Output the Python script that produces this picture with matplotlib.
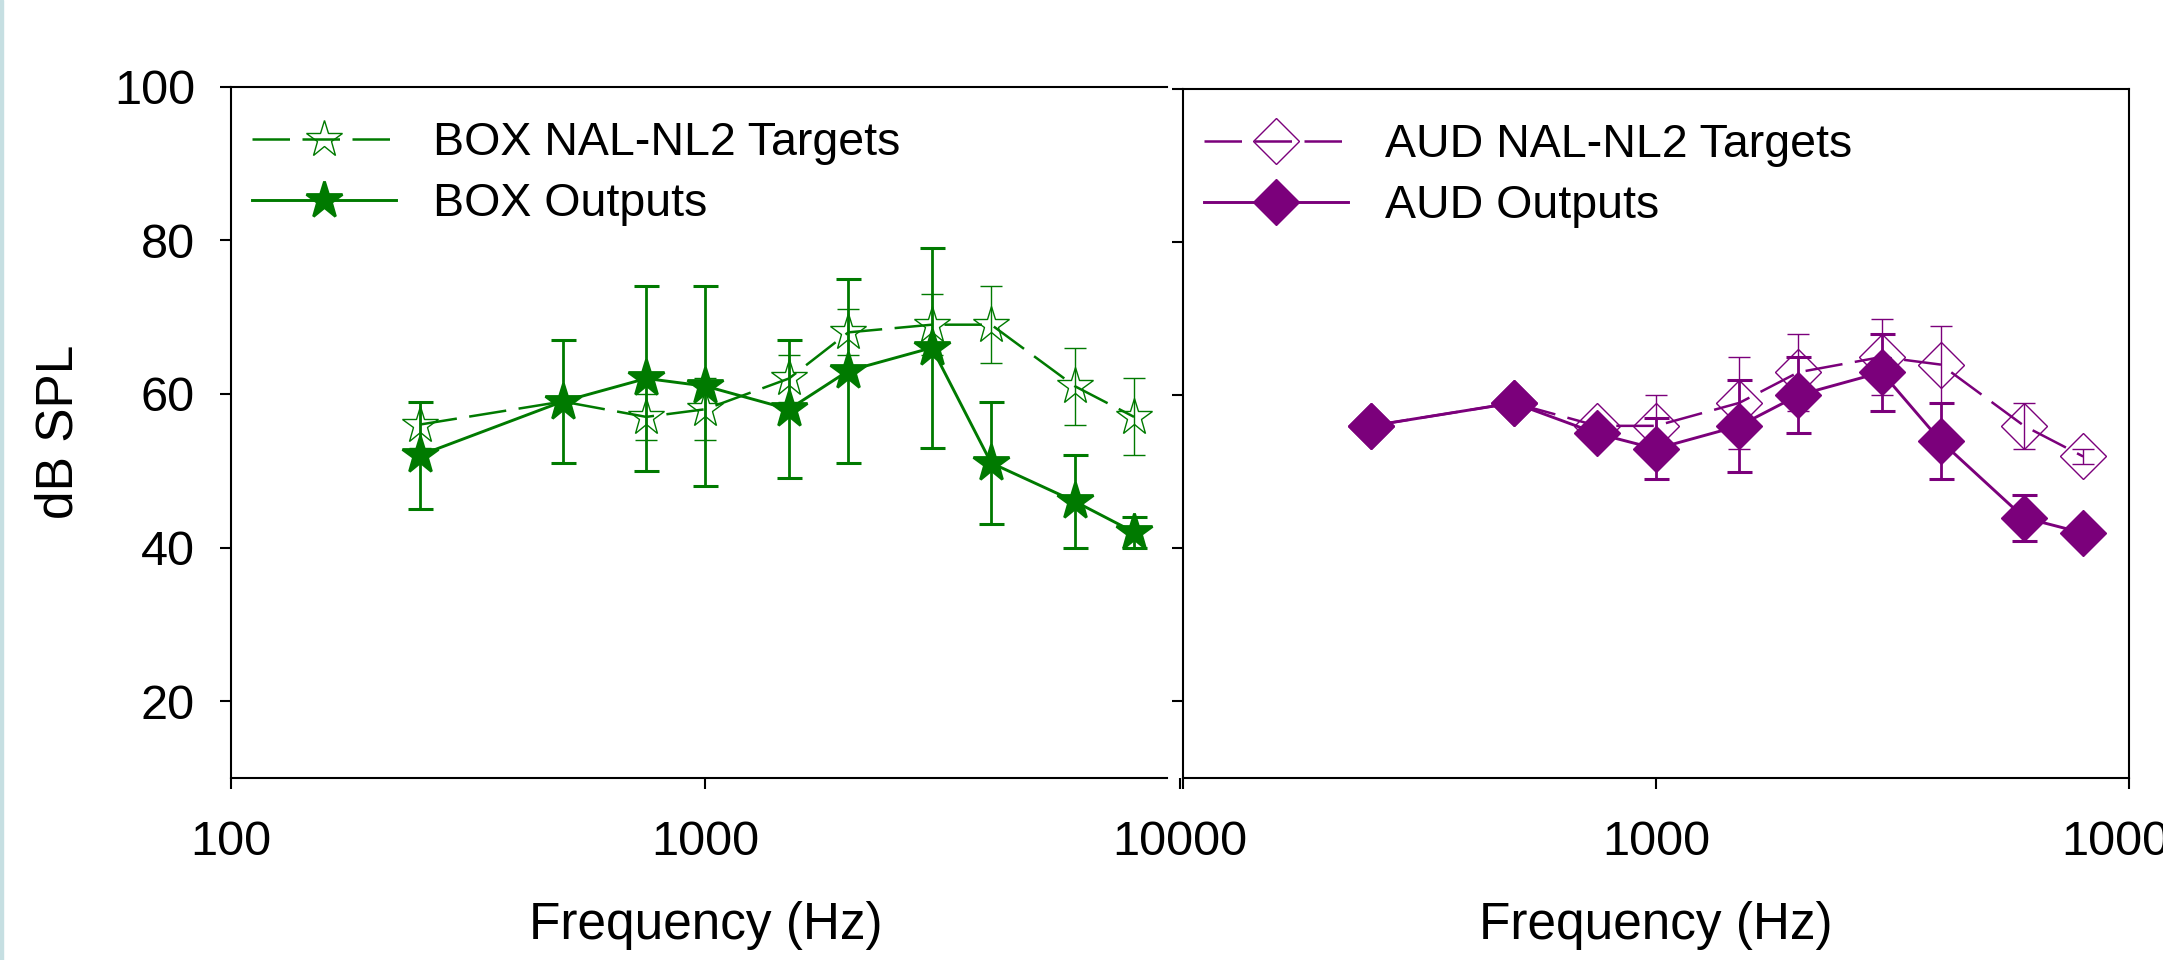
import numpy as np
import matplotlib
matplotlib.use("Agg")
import matplotlib.pyplot as plt
from matplotlib.patches import Rectangle
from matplotlib.ticker import FixedLocator, FixedFormatter, NullLocator

plt.rcParams['font.family'] = ['Liberation Sans', 'DejaVu Sans']

# ---------------- data ----------------
freq = [250, 500, 750, 1000, 1500, 2000, 3000, 4000, 6000, 8000]

box_target = [56, 59, 57, 58, 62, 68, 69, 69, 61, 57]
box_target_err = [3, 0, 3, 4, 3, 3, 4, 5, 5, 5]
box_output = [52, 59, 62, 61, 58, 63, 66, 51, 46, 42]
box_output_err = [7, 8, 12, 13, 9, 12, 13, 8, 6, 2]

aud_target = [56, 59, 56, 56, 59, 63, 65, 64, 56, 52]
aud_target_err = [0, 0, 0, 4, 6, 5, 5, 5, 3, 1]
aud_output = [56, 59, 55, 53, 56, 60, 63, 54, 44, 42]
aud_output_err = [0, 0, 0, 4, 6, 5, 5, 5, 3, 0]

x_ticks = [100, 1000, 10000]
x_tick_labels_left = ['100', '1000', '10000']
x_tick_labels_right = ['', '1000', '10000']
y_ticks = [20, 40, 60, 80, 100]
y_tick_labels = ['20', '40', '60', '80', '100']

box_labels = ['BOX NAL-NL2 Targets', 'BOX Outputs']
aud_labels = ['AUD NAL-NL2 Targets', 'AUD Outputs']
x_label = 'Frequency (Hz)'
y_label = 'dB SPL'

GREEN = '#007a00'
PURPLE = '#7b007b'

W, H = 2163, 960
fig = plt.figure(figsize=(W / 100, H / 100), dpi=100)
fig.patch.set_facecolor('white')
fig.add_artist(Rectangle((0, 0), 3 / W, 1, transform=fig.transFigure,
                         color='#c6dfe2', zorder=0))

ax1 = fig.add_axes([231 / W, 1 - 778 / H, (1180 - 231) / W, (778 - 86.5) / H])
ax2 = fig.add_axes([1183 / W, 1 - 778 / H, (2129 - 1183) / W, (778 - 89) / H])


def draw(ax, color, marker, tgt, tgt_err, out, out_err, labels, ms, mew_o):
    f = np.array(freq)
    tgt = np.array(tgt, dtype=float)
    tgt_err = np.array(tgt_err, dtype=float)
    out = np.array(out, dtype=float)
    out_err = np.array(out_err, dtype=float)

    m = tgt_err > 0
    ax.errorbar(f[m], tgt[m], yerr=tgt_err[m], fmt='none', ecolor=color,
                elinewidth=1.0, capsize=8, capthick=1.0, zorder=2)
    lt, = ax.plot(f, tgt, color=color, lw=1.8, dashes=(15, 5),
                  marker=marker, ms=ms, mfc='none', mec=color, mew=1.0,
                  label=labels[0], zorder=3)
    m = out_err > 0
    ax.errorbar(f[m], out[m], yerr=out_err[m], fmt='none', ecolor=color,
                elinewidth=2.0, capsize=9, capthick=2.2, zorder=4)
    lo, = ax.plot(f, out, color=color, lw=2.1, ls='-',
                  marker=marker, ms=ms, mfc=color, mec=color, mew=mew_o,
                  label=labels[1], zorder=5)
    ax.legend(handles=[lt, lo], loc='upper left', bbox_to_anchor=(0.022, 0.95),
              frameon=False, fontsize=33.5, handlelength=3.1, handletextpad=0.8,
              labelspacing=0.36, borderpad=0, borderaxespad=0, numpoints=1)


draw(ax1, GREEN, '*', box_target, box_target_err, box_output, box_output_err,
     box_labels, 28, 2.0)
draw(ax2, PURPLE, 'D', aud_target, aud_target_err, aud_output, aud_output_err,
     aud_labels, 23, 1.0)

for ax, xl in ((ax1, x_tick_labels_left), (ax2, x_tick_labels_right)):
    ax.set_xscale('log')
    ax.set_xlim(100, 10000)
    ax.set_ylim(10, 100)
    ax.xaxis.set_major_locator(FixedLocator(x_ticks))
    ax.xaxis.set_major_formatter(FixedFormatter(xl))
    ax.xaxis.set_minor_locator(NullLocator())
    ax.yaxis.set_major_locator(FixedLocator(y_ticks))
    ax.yaxis.set_major_formatter(FixedFormatter(y_tick_labels))
    ax.yaxis.set_minor_locator(NullLocator())
    ax.tick_params(axis='both', direction='out', length=8, width=1.5,
                   labelsize=35, top=False, right=False, colors='black')
    ax.tick_params(axis='x', pad=22)
    ax.tick_params(axis='y', pad=18)
    for s in ax.spines.values():
        s.set_linewidth(1.5)
        s.set_color('black')
    ax.set_xlabel(x_label, fontsize=37, labelpad=26)

ax1.spines['right'].set_visible(False)
ax1.spines['top'].set_bounds(100, 9400)
ax1.spines['bottom'].set_bounds(100, 9400)
ax1.set_ylabel(y_label, fontsize=37, labelpad=22)
ax2.tick_params(axis='y', labelleft=False)

fig.savefig('out.png', dpi=100, facecolor='white')
